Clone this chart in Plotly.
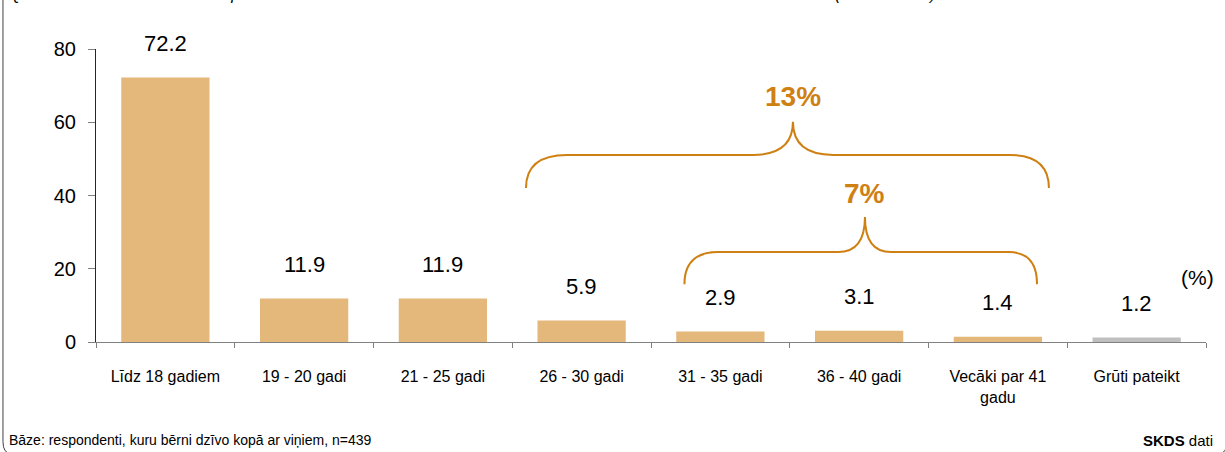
import plotly.graph_objects as go

# ---------------- data ----------------
categories = ["Līdz 18 gadiem", "19 - 20 gadi", "21 - 25 gadi", "26 - 30 gadi",
              "31 - 35 gadi", "36 - 40 gadi", "Vecāki par 41<br>gadu", "Grūti pateikt"]
values = [72.2, 11.9, 11.9, 5.9, 2.9, 3.1, 1.4, 1.2]
y_ticks = [0, 20, 40, 60, 80]
group_labels = ["13%", "7%"]

# ---------------- styles ----------------
BAR = "#E4B77A"
GREY = "#BFBFBF"
ORANGE = "#CF8013"
FONT = "Liberation Sans, Arial, sans-serif"
bar_colors = [BAR] * 7 + [GREY]

# bracket geometry (x in category-index units, y in value units)
brackets = [
    dict(x=[2.599, 2.895, 4.235, 4.523, 4.812, 6.087, 6.368], y=[42.05, 51.08, 60.11], ty=66.9),
    dict(x=[3.741, 3.983, 4.848, 5.042, 5.230, 6.080, 6.282], y=[15.79, 24.54, 34.12], ty=40.6),
]

fig = go.Figure()
fig.add_trace(go.Bar(
    x=categories, y=values, width=0.636,
    marker=dict(color=bar_colors, line=dict(width=0)),
    hoverinfo="skip",
))

annotations = []
for c, v in zip(categories, values):
    annotations.append(dict(x=c, y=v, xref="x", yref="y", text=f"{v:.1f}",
                            showarrow=False, yanchor="middle", yshift=34,
                            font=dict(family=FONT, size=22, color="#000000")))

shapes = []
for b, lab in zip(brackets, group_labels):
    x0, x1, x2, xp, x3, x4, x5 = b["x"]
    ye, yh, ypk = b["y"]
    path = (f"M {x0},{ye} Q {x0},{yh} {x1},{yh} L {x2},{yh} Q {xp},{yh} {xp},{ypk} "
            f"Q {xp},{yh} {x3},{yh} L {x4},{yh} Q {x5},{yh} {x5},{ye}")
    shapes.append(dict(type="path", xref="x", yref="y", path=path,
                       line=dict(color=ORANGE, width=2)))
    annotations.append(dict(x=xp, y=b["ty"], xref="x", yref="y", text=f"<b>{lab}</b>",
                            showarrow=False, xanchor="center", yanchor="middle",
                            font=dict(family=FONT, size=28, color=ORANGE)))

# outer frame (rounded rectangle, mostly outside the visible page)
fx0, fx1, fyb, fyt = -0.0838, 1.0189, -0.3806, 1.24
rx, ry = 0.0072, 0.041
frame = (f"M {fx0},{fyt} L {fx0},{fyb + ry} Q {fx0},{fyb} {fx0 + rx},{fyb} "
         f"L {fx1 - rx},{fyb} Q {fx1},{fyb} {fx1},{fyb + ry} L {fx1},{fyt}")
shapes.append(dict(type="path", xref="paper", yref="paper", path=frame,
                   line=dict(color="#404040", width=1)))

annotations += [
    dict(x=-0.0802, y=1.1515, xref="paper", yref="paper", xanchor="left", yanchor="bottom",
         text="<i>Q: Kādā vecumā bērni dzīvo kopā ar Jums?</i>", showarrow=False,
         font=dict(family=FONT, size=16, color="#000000")),
    dict(x=0.664, y=1.1515, xref="paper", yref="paper", xanchor="left", yanchor="bottom",
         text="<i>(viena atbilde)</i>", showarrow=False,
         font=dict(family=FONT, size=16, color="#000000")),
    dict(x=0.9919, y=0.2213, xref="paper", yref="paper", xanchor="center", yanchor="middle",
         text="(%)", showarrow=False, font=dict(family=FONT, size=21, color="#000000")),
    dict(x=-0.0802, y=-0.336, xref="paper", yref="paper", xanchor="left", yanchor="middle",
         text="Bāze: respondenti, kuru bērni dzīvo kopā ar viņiem, n=439", showarrow=False,
         font=dict(family=FONT, size=14, color="#000000")),
    dict(x=1.0081, y=-0.336, xref="paper", yref="paper", xanchor="right", yanchor="middle",
         text="<b>SKDS</b> dati", showarrow=False,
         font=dict(family=FONT, size=15, color="#000000")),
]

fig.update_layout(
    width=1225, height=452,
    margin=dict(l=96, r=19, t=49, b=110),
    plot_bgcolor="#FFFFFF", paper_bgcolor="#FFFFFF",
    showlegend=False,
    font=dict(family=FONT, color="#000000"),
    xaxis=dict(type="category", range=[-0.5, 7.5], tickson="boundaries",
               ticks="outside", ticklen=5, tickcolor="#808080", showline=True,
               linecolor="#808080", linewidth=1, showgrid=False,
               tickfont=dict(family=FONT, size=16, color="#000000"),
               ticklabelstandoff=20, fixedrange=True),
    yaxis=dict(range=[0, 80], tickvals=y_ticks, ticks="outside", ticklen=7,
               tickcolor="#808080", showline=True, linecolor="#262626", linewidth=1,
               showgrid=False, zeroline=False,
               tickfont=dict(family=FONT, size=20, color="#000000"),
               ticklabelstandoff=8, fixedrange=True),
    annotations=annotations,
    shapes=shapes,
)

fig.write_html("out.html",
               config={"displayModeBar": False},
               post_script="document.body.style.margin='0px';document.body.style.overflow='hidden';")
